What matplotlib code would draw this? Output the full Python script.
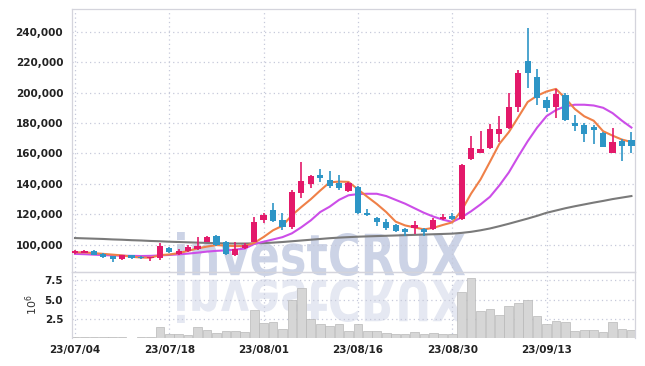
import matplotlib
matplotlib.use('Agg')
import matplotlib.pyplot as plt
import numpy as np
from matplotlib.textpath import TextPath
from matplotlib.patches import PathPatch
from matplotlib.font_manager import FontProperties
from matplotlib.transforms import Affine2D, IdentityTransform

# ---- data ----
tick_idx = [0, 10, 20, 30, 40, 50]
tick_lbl = ['23/07/04', '23/07/18', '23/08/01', '23/08/16', '23/08/30', '23/09/13']

opens = [94500, 94800, 96000, 94000, 92500, 90500, 93000, 92000, 91000, 91000,
         98000, 94000, 96000, 97000, 102000, 106000, 102000, 93000, 98000, 102000,
         116000, 123000, 116400, 111800, 134000, 140000, 146000, 142700, 140700, 135500,
         138000, 121000, 117700, 115000, 113000, 110500, 111000, 110500, 110500, 117000,
         119000, 117000, 156500, 160400, 163700, 173000, 176900, 190700, 220900, 210400,
         195300, 190700, 198500, 180000, 178800, 177500, 173600, 160400, 168300, 169000]
highs = [96300, 96500, 96300, 94300, 92800, 93300, 93500, 92300, 92000, 101000,
         98300, 97500, 100000, 105000, 105500, 106300, 102300, 102000, 101000, 118000,
         121000, 127600, 121000, 135700, 154500, 146000, 150000, 148600, 146000, 141500,
         138500, 123500, 118500, 117000, 113500, 111000, 115500, 111000, 117500, 120000,
         121000, 153000, 171600, 175000, 179500, 184700, 199500, 214500, 242200, 215600,
         197000, 202500, 199500, 185000, 180000, 178500, 174000, 176900, 169500, 174000]
lows = [93800, 94500, 93000, 91500, 88800, 90000, 90500, 90500, 89500, 90000,
        94500, 93000, 95500, 96500, 101500, 99500, 93500, 92500, 97500, 101500,
        114000, 115000, 110000, 110500, 131000, 137000, 141000, 137000, 136000, 134500,
        120500, 119000, 112500, 110000, 108500, 106000, 107000, 106000, 110000, 116000,
        116500, 116000, 155500, 160000, 163000, 167700, 176000, 187400, 203100, 192000,
        187400, 183400, 181500, 174500, 167500, 166500, 164000, 160000, 155200, 160500]
closes = [95800, 96200, 93500, 92000, 90500, 93000, 91500, 91000, 91700, 99000,
          95000, 96000, 98500, 99500, 105000, 100000, 94000, 97000, 100000, 115000,
          119700, 115800, 111800, 134800, 142000, 145300, 144000, 138800, 137500, 140700,
          121000, 119700, 115000, 111200, 109200, 108500, 113000, 108500, 116500, 118500,
          117000, 152500, 163700, 163000, 176200, 176200, 190700, 213000, 213000, 196600,
          190000, 199200, 182000, 178000, 173000, 175500, 164400, 167700, 165000, 165000]

ma5 = [95000, 95000, 94500, 94000, 93500, 93000, 92100, 91600, 91500, 93200,
       93600, 94500, 96000, 97600, 98800, 99800, 99400, 99100, 99200, 101200,
       105100, 109500, 112500, 119400, 124800, 129900, 135600, 141000, 141500, 141300,
       136400, 131500, 126800, 121500, 115200, 112700, 111400, 110100, 111100, 113000,
       114700, 122600, 133600, 142900, 154500, 166300, 174000, 183800, 193800, 197900,
       200700, 202400, 196200, 189200, 184400, 181500, 174600, 171700, 169100, 167500]
ma20 = [94000, 93800, 93500, 93200, 93000, 92800, 92700, 92600, 92700, 93000,
        93300, 93700, 94200, 94800, 95500, 96000, 96300, 96800, 97500, 100500,
        102000, 103500, 105000, 107500, 111500, 116000, 121500, 125000, 129500, 132500,
        133300, 133500, 133500, 132000, 129500, 127000, 124000, 121000, 118500, 116500,
        115000, 118000, 122000, 126500, 131500, 139000, 147500, 158000, 168000, 177000,
        184500, 188500, 191000, 192000, 192000, 191500, 190000, 186500, 181500, 177000]
ma60 = [104400, 104200, 104000, 103800, 103500, 103300, 103000, 102800, 102500, 102300,
        102000, 101800, 101600, 101400, 101200, 101000, 100900, 100800, 100800, 100900,
        101100, 101400, 101800, 102300, 102800, 103300, 103800, 104300, 104700, 105000,
        105300, 105500, 105700, 105900, 106100, 106300, 106500, 106700, 106900, 107100,
        107300, 107800, 108500, 109500, 110700, 112200, 113800, 115500, 117200, 119000,
        121000, 122500, 124000, 125300, 126500, 127700, 128800, 130000, 131000, 132000]

volume = [0.10, 0.08, 0.10, 0.07, 0.08, 0.09, 0.06, 0.07, 0.10, 1.39,
          0.52, 0.48, 0.35, 1.39, 1.00, 0.65, 0.91, 0.91, 0.78, 3.65,
          1.95, 2.08, 1.17, 4.95, 6.47, 2.47, 1.82, 1.56, 1.78, 0.91,
          1.78, 0.91, 0.91, 0.61, 0.52, 0.52, 0.74, 0.56, 0.65, 0.52,
          0.52, 5.95, 7.77, 3.52, 3.78, 3.00, 4.17, 4.56, 4.95, 2.86,
          1.82, 2.21, 2.08, 0.95, 1.04, 1.04, 0.78, 2.08, 1.17, 1.04]

up_col = '#e3196a'
dn_col = '#2d95c6'
grid_col = '#c6c9da'
txt_col = '#222222'

fig = plt.figure(figsize=(6.45, 3.66), dpi=100)
fig.patch.set_facecolor('white')

# watermark with reflection, drawn behind the axes
fp = FontProperties(family='DejaVu Sans', weight='bold')
tp = TextPath((0, 0), 'investCRUX', size=100, prop=fp)
ext = tp.get_extents()
sx = 288.0 / ext.width
sy = 44.0 / ext.height
x0, base = 177, 366 - 276
t_main = Affine2D().translate(-ext.x0, -ext.y0).scale(sx, sy).translate(x0, base)
t_refl = Affine2D().translate(-ext.x0, -ext.y0).scale(sx, -sy).translate(x0, base - 3)
fig.patches.append(PathPatch(t_main.transform_path(tp), facecolor='#ccd3e6', edgecolor='none',
                             transform=IdentityTransform(), figure=fig, zorder=-5))
fig.patches.append(PathPatch(t_refl.transform_path(tp), facecolor='#e5e8f2', edgecolor='none',
                             transform=IdentityTransform(), figure=fig, zorder=-5))

ax = fig.add_axes([71.5/645, 1-272/366, (635-71.5)/645, (272-9.3)/366])
axv = fig.add_axes([71.5/645, 1-338/366, (635-71.5)/645, (338-272)/366], sharex=ax)

x = np.arange(len(opens))
o = np.array(opens); c = np.array(closes); h = np.array(highs); l = np.array(lows)
cols = [up_col if cc >= oo else dn_col for oo, cc in zip(o, c)]

ax.plot(x, ma60, color='#7a7a7a', lw=1.5, zorder=2)
ax.plot(x, ma20, color='#cc4ee8', lw=1.5, zorder=2)
ax.plot(x, ma5, color='#ef8048', lw=1.5, zorder=2)
ax.vlines(x, l, h, colors=cols, lw=1.2, zorder=3)
ax.bar(x, np.abs(c - o), bottom=np.minimum(o, c), width=0.66, color=cols, zorder=4)

axv.bar(x, volume, width=0.92, color='#d6d6d6', edgecolor='#b8b8b8', lw=0.5, zorder=2)

ax.set_xlim(-0.37, 59.38)
ax.set_ylim(82100, 254700)
ax.set_yticks(np.arange(100000, 240001, 20000))
ax.set_yticklabels(['{:,}'.format(v) for v in range(100000, 240001, 20000)])
axv.set_ylim(0, 8.59)
axv.set_yticks([2.5, 5.0, 7.5])
axv.set_yticklabels(['2.5', '5.0', '7.5'])
axv.set_xticks(tick_idx)
axv.set_xticklabels(tick_lbl)
axv.set_ylabel(r'$10^6$', fontsize=8, color='#333333', labelpad=3)

for a in (ax, axv):
    a.set_facecolor('none')
    a.grid(True, color=grid_col, linestyle=(0, (1, 2.5)), lw=0.9)
    a.set_axisbelow(True)
    for s in a.spines.values():
        s.set_color('#d4d4dc')
        s.set_linewidth(0.9)
    a.tick_params(length=0, pad=6, labelsize=7.5, labelcolor=txt_col)
    for lab in a.get_yticklabels() + a.get_xticklabels():
        lab.set_fontweight('bold')
axv.spines['bottom'].set_visible(False)
plt.setp(ax.get_xticklabels(), visible=False)
axv.tick_params(axis='x', pad=5)

plt.savefig('out.png', dpi=100)
